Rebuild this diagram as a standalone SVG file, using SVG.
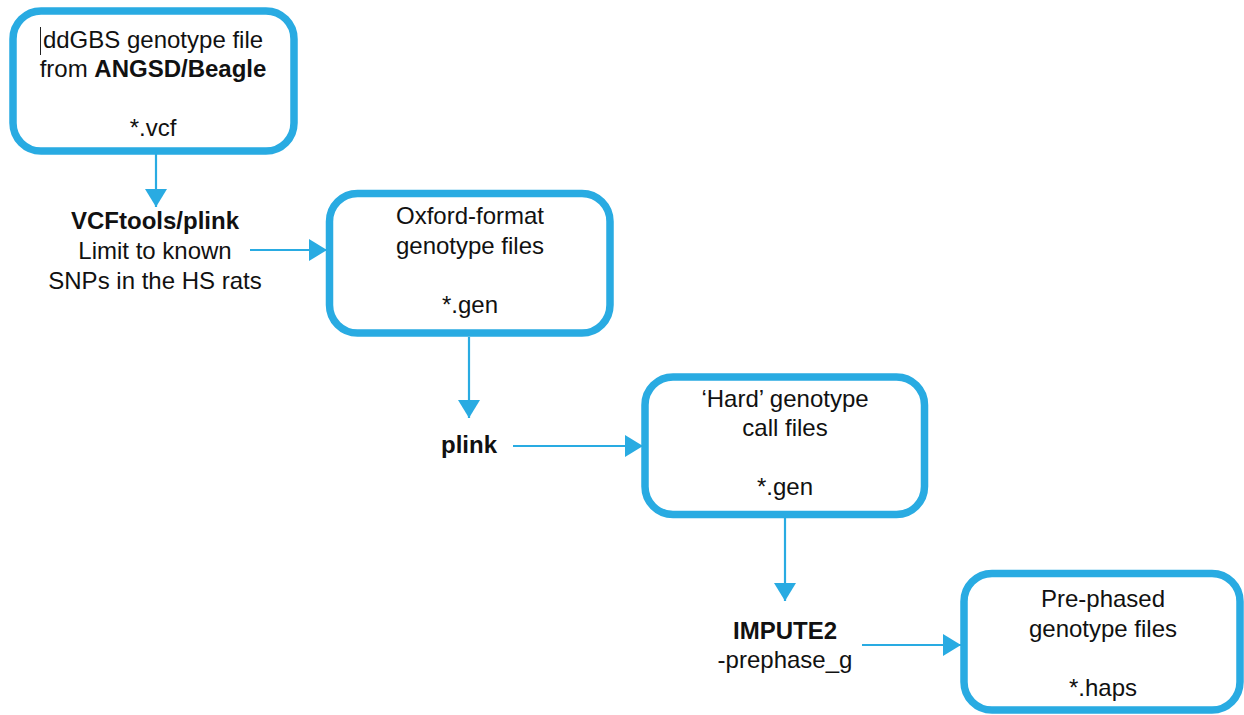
<svg xmlns="http://www.w3.org/2000/svg" width="1244" height="715" viewBox="0 0 1244 715">
<defs>
<style>
.box{fill:#fff;stroke:#29abe2;stroke-width:7.5}
.t{font-family:"Liberation Sans",Arial,sans-serif;font-size:24px;fill:#111;text-anchor:middle}
.b{font-weight:bold}
.c{stroke:#29abe2;stroke-width:2.2;fill:none}
</style>
<marker id="ah" markerUnits="userSpaceOnUse" markerWidth="18" markerHeight="22" refX="18" refY="11" orient="auto">
<path d="M0,0 L18,11 L0,22 z" fill="#29abe2"/>
</marker>
</defs>
<rect width="1244" height="715" fill="#fff"/>
<g id="connectors">
<line class="c" x1="156" y1="152" x2="156" y2="207" marker-end="url(#ah)"/>
<line class="c" x1="250" y1="250" x2="327" y2="250" marker-end="url(#ah)"/>
<line class="c" x1="469" y1="337" x2="469" y2="418" marker-end="url(#ah)"/>
<line class="c" x1="513" y1="446" x2="643" y2="446" marker-end="url(#ah)"/>
<line class="c" x1="785" y1="518" x2="785" y2="601" marker-end="url(#ah)"/>
<line class="c" x1="862" y1="645" x2="961" y2="645" marker-end="url(#ah)"/>
</g>
<g id="node-vcf">
<rect class="box" x="13" y="11" width="281" height="140" rx="28"/>
<line x1="40.5" y1="27" x2="40.5" y2="55" stroke="#222" stroke-width="1"/>
<text class="t" x="153" y="48">ddGBS genotype file</text>
<text class="t" x="153" y="77">from <tspan class="b">ANGSD/Beagle</tspan></text>
<text class="t" x="153" y="136">*.vcf</text>
</g>
<g id="node-vcftools">
<text class="t b" x="155" y="229">VCFtools/plink</text>
<text class="t" x="155" y="259">Limit to known</text>
<text class="t" x="155" y="289">SNPs in the HS rats</text>
</g>
<g id="node-oxford">
<rect class="box" x="329.5" y="193.5" width="280.5" height="139.5" rx="28"/>
<text class="t" x="470" y="224">Oxford-format</text>
<text class="t" x="470" y="254">genotype files</text>
<text class="t" x="470" y="313">*.gen</text>
</g>
<g id="node-plink">
<text class="t b" x="469" y="453">plink</text>
</g>
<g id="node-hard">
<rect class="box" x="645" y="377" width="279.5" height="137.5" rx="28"/>
<text class="t" x="785" y="407">‘Hard’ genotype</text>
<text class="t" x="785" y="436">call files</text>
<text class="t" x="785" y="495">*.gen</text>
</g>
<g id="node-impute">
<text class="t b" x="785" y="639">IMPUTE2</text>
<text class="t" x="785" y="668">-prephase_g</text>
</g>
<g id="node-haps">
<rect class="box" x="964" y="573.5" width="276" height="136.5" rx="28"/>
<text class="t" x="1103" y="607">Pre-phased</text>
<text class="t" x="1103" y="637">genotype files</text>
<text class="t" x="1103" y="696">*.haps</text>
</g>
</svg>
